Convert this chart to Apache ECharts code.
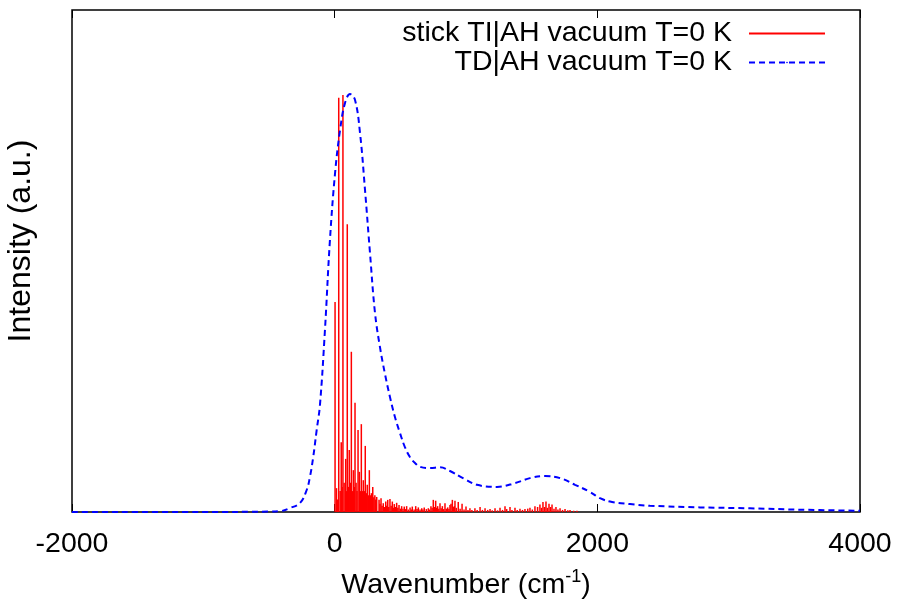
<!DOCTYPE html>
<html><head><meta charset="utf-8">
<script src="https://cdn.jsdelivr.net/npm/echarts@6/dist/echarts.min.js"></script>
<style>html,body{margin:0;padding:0;background:#fff}#c{width:899px;height:600px}</style>
</head><body><div id="c"></div>
<script>
const xTicks = [-2000, 0, 2000, 4000];
const legendNames = ['stick TI|AH vacuum T=0 K', 'TD|AH vacuum T=0 K'];
const stickWn = [3,14,22,31,42,50,57,63,72,84,90,96,104,111,119,127,135,142,149,155,163,170,178,188,196,203,211,218,226,233,241,248,256,264,272,280,290,298,306,313,320,
  338,345,353,361,370,380,389,396,404,412,421,430,439,446,454,463,472,481,490,500,510,520,530,540,548,560,574,583,591,605,617,627,637,650,663,672,682,698,713,722,733,742,751,760,769,777,784,793,802,811,820,830,840,850,861,870,878,886,896,904,911,916,926,941,955,970,985,
  1000,1015,1030,1045,1068,1085,1107,1125,1145,1165,1183,1200,1221,1240,1259,1278,1297,1310,1335,1350,1373,1390,1411,1430,1449,1470,1487,1505,1525,1545,1563,1575,1586,1598,1609,1620,1632,1644,1655,1670,1685,1700,1716,1735,1754,1775,1792,1820,1845];
const stickInt = [0.502,0.057,0.03,0.990,0.05,0.167,0.06,0.997,0.07,0.127,0.05,0.688,0.06,0.148,0.07,0.383,0.05,0.100,0.06,0.261,0.07,0.05,0.196,0.096,0.05,0.210,0.05,0.076,0.05,0.158,0.045,0.065,0.04,0.100,0.04,0.045,0.060,0.035,0.04,0.03,0.036,
  0.029,0.02,0.033,0.015,0.021,0.012,0.025,0.015,0.029,0.012,0.031,0.015,0.025,0.01,0.019,0.012,0.022,0.01,0.017,0.008,0.014,0.008,0.013,0.007,0.014,0.006,0.011,0.006,0.013,0.006,0.014,0.007,0.011,0.006,0.009,0.006,0.011,0.007,0.009,0.006,0.014,0.01,0.029,0.012,0.027,0.01,0.014,0.008,0.021,0.009,0.014,0.007,0.021,0.008,0.011,0.007,0.017,0.02,0.029,0.012,0.014,0.027,0.01,0.024,0.008,0.02,0.006,
  0.013,0.005,0.009,0.005,0.009,0.005,0.012,0.005,0.009,0.005,0.007,0.004,0.009,0.004,0.01,0.005,0.014,0.007,0.012,0.005,0.01,0.005,0.008,0.005,0.007,0.008,0.01,0.006,0.014,0.012,0.018,0.01,0.024,0.012,0.025,0.01,0.02,0.012,0.018,0.008,0.012,0.006,0.009,0.005,0.007,0.004,0.005,0.003,0.003];
const tdWn = [-2000,-1000,-500,-416,-340,-264,-213,-188,-163,-137,-112,-74,-36,3,41,79,117,155,193,231,269,307,345,383,421,459,497,535,574,612,650,726,802,878,977,1084,1236,1373,1487,1602,1716,1830,1944,2020,2112,2249,2401,2782,3162,3543,4000];
const tdInt = [0,0,0.001,0.002,0.0096,0.0215,0.0526,0.0844,0.132,0.196,0.256,0.435,0.650,0.810,0.913,0.978,0.999,0.985,0.906,0.770,0.619,0.476,0.394,0.330,0.275,0.227,0.189,0.155,0.131,0.117,0.108,0.105,0.107,0.098,0.081,0.065,0.060,0.069,0.081,0.086,0.081,0.065,0.048,0.033,0.024,0.019,0.015,0.011,0.0088,0.0055,0.003];

const sticks = stickWn.map((w, i) => [w, stickInt[i]]);
const td = tdWn.map((w, i) => [w, tdInt[i]]);
const FONT = 'Liberation Sans';
const FS = 28.5;

const chart = echarts.init(document.getElementById('c'), null, {renderer: 'canvas'});
const xCommon = {
  type: 'value', min: xTicks[0], max: xTicks[xTicks.length - 1], interval: 2000,
  splitLine: {show: false}, axisLine: {show: false},
  axisTick: {show: true, inside: true, length: 8, lineStyle: {color: '#000', width: 1}}
};
chart.setOption({
  animation: false,
  backgroundColor: '#fff',
  grid: {left: 72, right: 39, top: 10, bottom: 88, containLabel: false, outerBoundsMode: 'none',
    show: true, borderColor: '#000', borderWidth: 1.5, backgroundColor: 'transparent'},
  legend: {
    orient: 'vertical', right: 68, top: 14, align: 'right',
    itemWidth: 76, itemHeight: 2, itemGap: 0,
    textStyle: {fontSize: FS, color: '#000', fontFamily: FONT, lineHeight: 29, padding: [0, 12, 0, 0]},
    data: [{name: legendNames[0], icon: 'rect'}, {name: legendNames[1]}]
  },
  xAxis: [
    Object.assign({}, xCommon, {
      position: 'bottom',
      axisLabel: {show: true, fontSize: FS, color: '#000', fontFamily: FONT, margin: 18,
        showMinLabel: true, showMaxLabel: true, formatter: v => String(v)},
      name: 'Wavenumber (cm{sup|-1})', nameLocation: 'middle', nameGap: 56,
      nameTextStyle: {fontSize: FS, color: '#000', fontFamily: FONT,
        rich: {sup: {fontSize: 18, color: '#000', fontFamily: FONT, verticalAlign: 'top', padding: [0, 0, 16, 0]}}}
    }),
    Object.assign({}, xCommon, {position: 'top', axisLabel: {show: false}})
  ],
  yAxis: {
    type: 'value', min: 0, max: 1.2,
    axisLine: {show: false}, axisTick: {show: false}, axisLabel: {show: false}, splitLine: {show: false},
    name: 'Intensity (a.u.)', nameLocation: 'middle', nameGap: 35,
    nameTextStyle: {fontSize: 32, color: '#000', fontFamily: FONT, padding: [0, 0, 0, 40]}
  },
  series: [
    {
      name: legendNames[0], type: 'custom', xAxisIndex: 0, data: sticks,
      itemStyle: {color: '#ff0000'},
      encode: {x: 0, y: 1},
      renderItem: function (params, api) {
        const x = api.value(0), v = api.value(1);
        const p0 = api.coord([x, 0]), p1 = api.coord([x, v]);
        return {type: 'line', shape: {x1: p0[0], y1: p0[1], x2: p1[0], y2: p1[1]},
          style: {stroke: '#ff0000', lineWidth: 1.5}};
      },
      z: 2
    },
    {
      name: legendNames[1], type: 'line', xAxisIndex: 0, data: td,
      symbol: 'none', smooth: 0.4, color: '#0000ff',
      lineStyle: {color: '#0000ff', width: 2, type: [6, 4]},
      z: 3
    }
  ]
});
</script></body></html>
